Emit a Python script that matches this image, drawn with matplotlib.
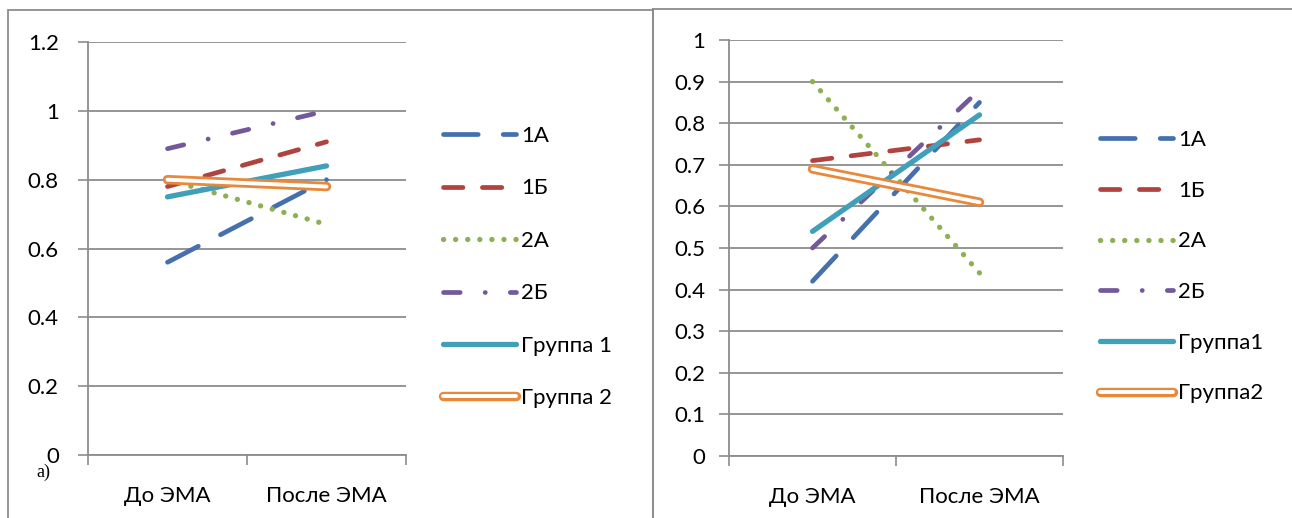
import numpy as np
import matplotlib
matplotlib.use("Agg")
import matplotlib.pyplot as plt
from matplotlib.lines import Line2D
from matplotlib.patches import Rectangle
from matplotlib.legend_handler import HandlerTuple

plt.rcParams['font.family'] = ['Lato', 'DejaVu Sans']
plt.rcParams['lines.scale_dashes'] = False

# data
categories = ['До ЭМА', 'После ЭМА']

left_1A = [0.56, 0.80]
left_1B = [0.78, 0.91]
left_2A = [0.80, 0.67]
left_2B = [0.89, 1.00]
left_g1 = [0.75, 0.84]
left_g2 = [0.80, 0.78]
left_labels = ['1А', '1Б', '2А', '2Б', 'Группа 1', 'Группа 2']

right_1A = [0.42, 0.85]
right_1B = [0.71, 0.76]
right_2A = [0.90, 0.44]
right_2B = [0.50, 0.88]
right_g1 = [0.54, 0.82]
right_g2 = [0.69, 0.61]
right_labels = ['1А', '1Б', '2А', '2Б', 'Группа1', 'Группа2']

left_yticks = [0, 0.2, 0.4, 0.6, 0.8, 1.0, 1.2]
right_yticks = [0, 0.1, 0.2, 0.3, 0.4, 0.5, 0.6, 0.7, 0.8, 0.9, 1.0]

# colours / dash styles
c_blue = '#4570ad'
c_red = '#b0433f'
c_green = '#8db152'
c_purple = '#73599c'
c_teal = '#40a0b9'
c_orange = '#e8883a'
GRID = '#8c8c8c'
FS = 16

styles = [
    dict(color=c_blue, dashes=(25, 18)),
    dict(color=c_red, dashes=(14, 14)),
    dict(color=c_green, dashes=(0.1, 8.6), lw=3.8),
    dict(color=c_purple, dashes=(12, 18, 0.1, 18)),
]


def fmt(v):
    return '0' if v == 0 else ('1' if v == 1 else '%g' % v)


def draw_panel(ax, data, g1, g2, labels, yticks, ymax, leg_anchor, ylpad, lspace):
    x = np.arange(len(categories))
    handles = []
    for vals, st in zip(data, styles):
        lw = st.get('lw', 3.4)
        ln, = ax.plot(x, vals, color=st['color'], lw=lw, dashes=st['dashes'],
                      dash_capstyle='round', solid_capstyle='round', zorder=3)
        handles.append(ln)
    ln, = ax.plot(x, g1, color=c_teal, lw=3.8, solid_capstyle='round', zorder=3)
    handles.append(ln)
    o1, = ax.plot(x, g2, color=c_orange, lw=6.8, solid_capstyle='round', zorder=4)
    o2, = ax.plot(x, g2, color='white', lw=2.8, solid_capstyle='round', zorder=5)
    handles.append((o1, o2))

    ax.set_xlim(-0.5, len(categories) - 0.5)
    ax.set_ylim(0, ymax)
    ax.set_yticks(yticks)
    ax.set_yticklabels([fmt(v) for v in yticks])
    ax.set_xticks(x)
    ax.set_xticklabels(categories)
    ax.set_xticks(np.arange(len(categories) + 1) - 0.5, minor=True)
    ax.tick_params(axis='x', which='major', length=0, pad=22, labelsize=FS)
    ax.tick_params(axis='x', which='minor', length=7, width=1.2, color=GRID)
    ax.tick_params(axis='y', length=7, width=1.2, color=GRID, pad=ylpad, labelsize=FS)
    ax.grid(axis='y', color=GRID, lw=1.3)
    ax.set_axisbelow(True)
    for s in ['top', 'right']:
        ax.spines[s].set_visible(False)
    for s in ['left', 'bottom']:
        ax.spines[s].set_color(GRID)
        ax.spines[s].set_linewidth(1.3)

    fig.legend(handles, labels, loc='upper left', bbox_to_anchor=leg_anchor,
               frameon=False, fontsize=FS, handlelength=3.3, handletextpad=0.2,
               labelspacing=lspace, borderpad=0, borderaxespad=0,
               handler_map={tuple: HandlerTuple(ndivide=1, pad=0)})


fig = plt.figure(figsize=(12.92, 5.18), dpi=100)
W, H = 1292.0, 518.0

# panel frames
fig.add_artist(Rectangle((8 / W, -0.05), (653 - 8) / W, 1.05 - 10 / H,
                         transform=fig.transFigure, fill=False, ec='#8c8c8c', lw=1.3))
fig.add_artist(Line2D([653 / W, 653 / W], [-0.05, 1 - 9 / H], transform=fig.transFigure,
                      color='#8c8c8c', lw=1.3))
fig.add_artist(Line2D([653 / W, 1.0], [1 - 9 / H, 1 - 9 / H], transform=fig.transFigure,
                      color='#8c8c8c', lw=1.3))

axL = fig.add_axes([88 / W, 1 - 455 / H, (406 - 88) / W, (455 - 42) / H])
draw_panel(axL, [left_1A, left_1B, left_2A, left_2B], left_g1, left_g2, left_labels,
           left_yticks, 1.2, (443 / W, 1 - 126 / H), 14, 1.46)

axR = fig.add_axes([729 / W, 1 - 456 / H, (1063 - 729) / W, (456 - 40) / H])
draw_panel(axR, [right_1A, right_1B, right_2A, right_2B], right_g1, right_g2, right_labels,
           right_yticks, 1.0, (1100 / W, 1 - 130 / H), 10, 1.38)

fig.text(36 / W, 1 - 472 / H, 'а)', family=['Liberation Serif'], fontsize=13,
         ha='left', va='center')

fig.savefig('out.png', dpi=100)
